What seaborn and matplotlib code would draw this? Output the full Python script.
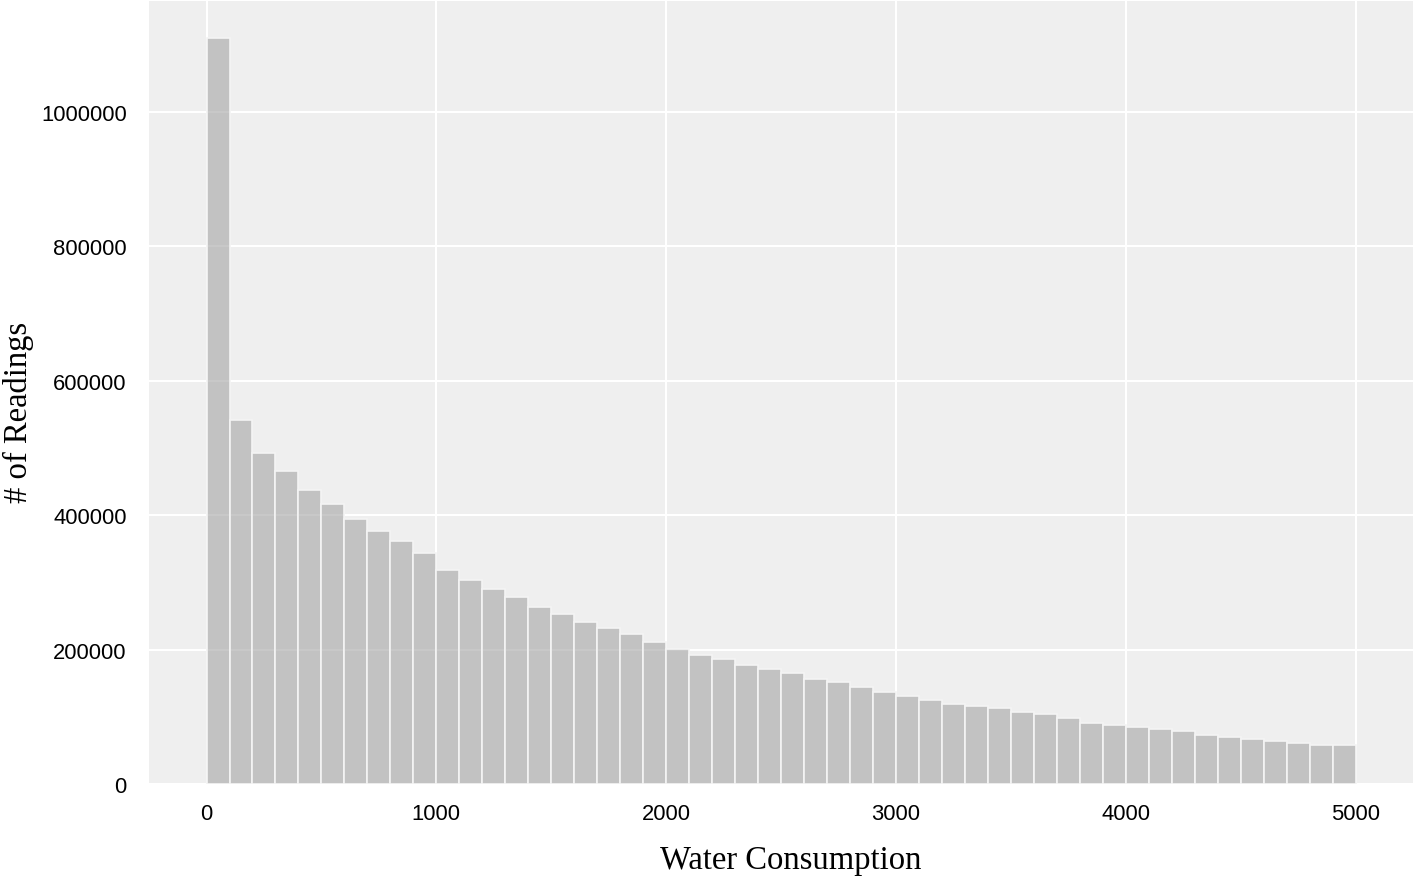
import numpy as np
import pandas as pd
import matplotlib
matplotlib.use("Agg")
import matplotlib.pyplot as plt
import seaborn as sns

# Bin edges (width 100, 0..5000) and counts per bin
bin_edges = list(range(0, 5001, 100))
counts = [1108900, 541900, 492900, 465500, 437900, 416000, 394200, 376400,
          361100, 342800, 318000, 302700, 290200, 277900, 263000, 253100,
          241200, 232300, 222900, 210500, 201000, 192100, 185700, 176800,
          171000, 164500, 155500, 152000, 143600, 136700, 130800, 124800,
          118900, 115900, 112900, 106500, 103500, 97600, 91100, 88100,
          85100, 82200, 79200, 72800, 69800, 66900, 63400, 60900, 57500, 57500]
x_ticks = [0, 1000, 2000, 3000, 4000, 5000]
y_ticks = [0, 200000, 400000, 600000, 800000, 1000000]

centers = [(bin_edges[i] + bin_edges[i + 1]) / 2 for i in range(len(counts))]
df = pd.DataFrame({"consumption": centers, "readings": counts})

sns.set_style("darkgrid", {"axes.facecolor": "#efefef", "grid.color": "white",
                           "axes.edgecolor": "#efefef"})
plt.rcParams["font.family"] = ["Liberation Sans", "DejaVu Sans"]

fig = plt.figure(figsize=(14.17, 8.78), dpi=100)
ax = fig.add_axes([0.1052, 0.1059, 0.892, 0.8918])

sns.histplot(data=df, x="consumption", weights="readings", bins=bin_edges,
             color="#a4a4a4", alpha=0.6, edgecolor="#f4f4f4", linewidth=1.2,
             ax=ax)

ax.set_xticks(x_ticks)
ax.set_yticks(y_ticks)
ax.ticklabel_format(style="plain", axis="y")
ax.tick_params(axis="both", labelsize=15.8, colors="black", length=0)
ax.tick_params(axis="x", pad=14)
ax.tick_params(axis="y", pad=16)
ax.grid(True, color="white", linewidth=1.5)
ax.set_axisbelow(True)
for s in ax.spines.values():
    s.set_visible(False)

ax.set_xlabel("Water Consumption", family=["Liberation Serif", "DejaVu Serif"],
              fontsize=23.5, color="black")
ax.set_ylabel("# of Readings", family=["Liberation Serif", "DejaVu Serif"],
              fontsize=23.5, color="black")
ax.xaxis.set_label_coords(0.508, -0.077)
ax.yaxis.set_label_coords(-0.091, 0.476)

fig.savefig("out.png", dpi=100)
